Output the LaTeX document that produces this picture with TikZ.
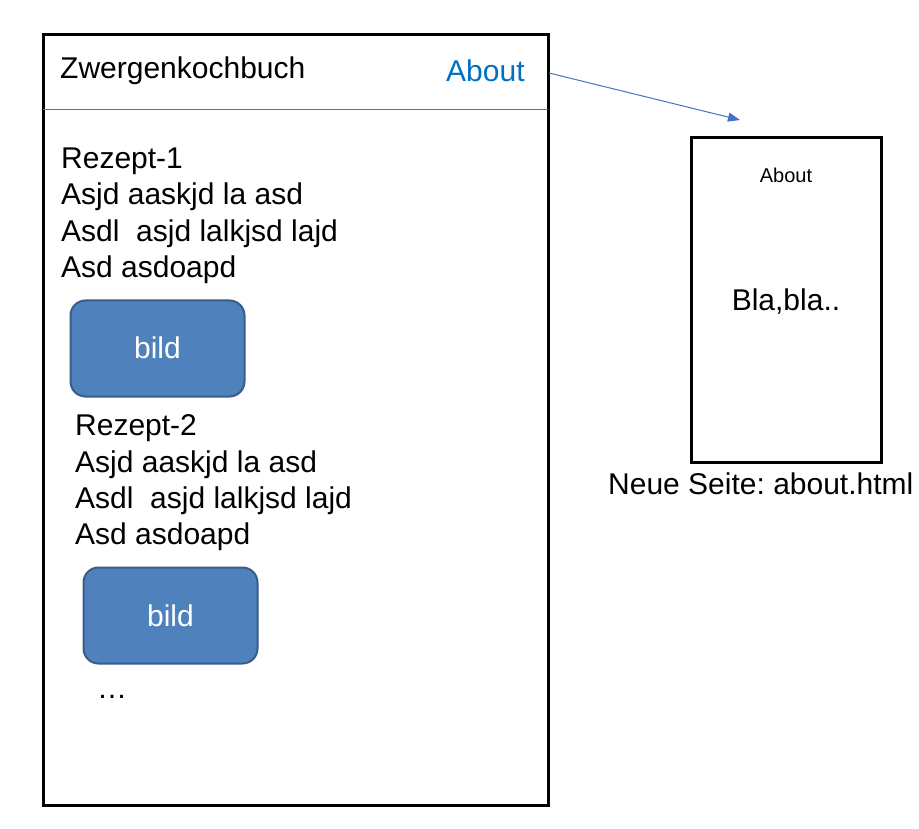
\documentclass[tikz,border=0pt]{standalone}
\usepackage{fontspec}
\setmainfont{Liberation Sans}
\usetikzlibrary{arrows.meta}
\frenchspacing
\definecolor{linkblue}{RGB}{0,112,192}
\definecolor{lineblue}{RGB}{68,114,196}
\definecolor{boxfill}{RGB}{79,129,189}
\definecolor{boxborder}{RGB}{56,93,138}
\begin{document}
\begin{tikzpicture}[x=1pt,y=-1pt,
  frame/.style={draw=black, line width=3pt, inner sep=0pt, outer sep=0pt, fill=white},
  txt/.style={anchor=base west, inner sep=0pt, font=\fontsize{30}{36}\selectfont},
  ctxt/.style={anchor=base, inner sep=0pt, font=\fontsize{30}{36}\selectfont},
  bildbox/.style={draw=boxborder, fill=boxfill, line width=2pt, rounded corners=15pt,
    minimum width=174pt, minimum height=96pt, inner sep=0pt},
  bildtxt/.style={anchor=base, inner sep=0pt, text=white, font=\fontsize{30}{36}\selectfont},
  link/.style={draw=lineblue, line width=1pt, -{Triangle[length=12pt,width=9pt]}}
]
\useasboundingbox (0,0) rectangle (919,829);
% main page
\node[frame, minimum width=505pt, minimum height=770pt] (page) at (295.5,420) {};
\coordinate (hl) at (43,110);
\coordinate (hr) at (548,110);
\draw[lineblue, line width=1pt] (hl) -- (hr);
\node[txt] (title) at (60,79) {Zwergenkochbuch};
\node[txt, text=linkblue] (about) at (446,82) {About};
% recipe 1
\node[txt] (r1a) at (61,169) {Rezept-1};
\node[txt] (r1b) at (61,205) {Asjd aaskjd la asd};
\node[txt] (r1c) at (61,242) {Asdl\ \ asjd lalkjsd lajd};
\node[txt] (r1d) at (61,278) {Asd asdoapd};
\node[bildbox] (bild1) at (157.5,348.5) {};
\node[bildtxt] (bild1t) at (157.5,358) {bild};
% recipe 2
\node[txt] (r2a) at (75,435) {Rezept-2};
\node[txt] (r2b) at (75,472) {Asjd aaskjd la asd};
\node[txt] (r2c) at (75,508) {Asdl\ \ asjd lalkjsd lajd};
\node[txt] (r2d) at (75,544) {Asd asdoapd};
\node[bildbox] (bild2) at (170.5,615.5) {};
\node[bildtxt] (bild2t) at (170.5,626) {bild};
\node[txt] (dots) at (97,698) {\ldots};
% about page
\node[frame, minimum width=190pt, minimum height=324pt] (aboutpage) at (786.5,300) {};
\node[anchor=base, inner sep=0pt, font=\fontsize{20}{24}\selectfont] (abouttitle) at (786,183) {About};
\node[ctxt] (bla) at (786,310) {Bla,bla..};
\node[txt] (caption) at (608,494) {Neue Seite: about.html};
% arrow
\coordinate (as) at (549,73);
\coordinate (ae) at (740,120);
\draw[link] (as) -- (ae);
\end{tikzpicture}
\end{document}
